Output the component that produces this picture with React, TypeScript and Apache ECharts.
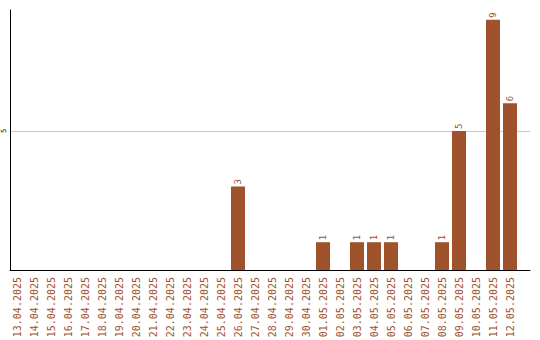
import React, { useEffect, useRef } from "react";
import * as echarts from "echarts";

// Daily counts, 13.04.2025 – 12.05.2025
const categories: string[] = [
  "13.04.2025", "14.04.2025", "15.04.2025", "16.04.2025", "17.04.2025",
  "18.04.2025", "19.04.2025", "20.04.2025", "21.04.2025", "22.04.2025",
  "23.04.2025", "24.04.2025", "25.04.2025", "26.04.2025", "27.04.2025",
  "28.04.2025", "29.04.2025", "30.04.2025", "01.05.2025", "02.05.2025",
  "03.05.2025", "04.05.2025", "05.05.2025", "06.05.2025", "07.05.2025",
  "08.05.2025", "09.05.2025", "10.05.2025", "11.05.2025", "12.05.2025",
];

const values: number[] = [
  0, 0, 0, 0, 0,
  0, 0, 0, 0, 0,
  0, 0, 0, 3, 0,
  0, 0, 0, 1, 0,
  1, 1, 1, 0, 0,
  1, 5, 0, 9, 6,
];

const yTickLabels: number[] = [5];

const BROWN = "#A0522D";
const MONO = "'DejaVu Sans Mono', 'Liberation Mono', monospace";

export default function App() {
  const ref = useRef<HTMLDivElement>(null);

  useEffect(() => {
    if (!ref.current) return;
    const chart = echarts.init(ref.current, undefined, { renderer: "svg" });

    const positions = categories.map((_, i) => i);
    const seriesData = categories.map((_, i) => [i, values[i]]);

    chart.setOption({
      animation: false,
      backgroundColor: "#ffffff",
      grid: {
        left: 10,
        right: 10,
        top: 10,
        bottom: 70,
        containLabel: false,
        outerBoundsMode: "none",
      },
      xAxis: {
        type: "value",
        min: -7 / 17,
        max: -7 / 17 + 520 / 17,
        axisLine: { show: true, onZero: false, lineStyle: { color: "#000", width: 1 } },
        axisTick: { show: false },
        splitLine: { show: false },
        axisLabel: {
          customValues: positions,
          formatter: (v: number) => categories[Math.round(v)] ?? "",
          rotate: 90,
          margin: 7,
          color: BROWN,
          fontFamily: MONO,
          fontSize: 10,
        },
      },
      yAxis: {
        type: "value",
        min: 0,
        max: 9.35,
        interval: 5,
        axisLine: { show: true, onZero: false, lineStyle: { color: "#000", width: 1 } },
        axisTick: { show: false },
        splitLine: {
          show: true,
          showMinLine: false,
          showMaxLine: false,
          lineStyle: { color: "#c8c8c8", width: 1 },
        },
        axisLabel: {
          customValues: yTickLabels,
          rotate: 90,
          margin: 3,
          color: "#000",
          fontFamily: MONO,
          fontSize: 7,
        },
      },
      series: [
        {
          type: "bar",
          data: seriesData,
          barWidth: 14,
          itemStyle: { color: BROWN },
          label: {
            show: true,
            position: "top",
            rotate: 90,
            align: "left",
            verticalAlign: "middle",
            distance: 2,
            color: BROWN,
            fontFamily: MONO,
            fontSize: 9,
            formatter: (p: any) => (p.value[1] > 0 ? String(p.value[1]) : ""),
          },
        },
      ],
    });

    return () => chart.dispose();
  }, []);

  return (
    <div
      ref={ref}
      style={{ position: "fixed", left: 0, top: 0, width: 540, height: 340 }}
    />
  );
}
